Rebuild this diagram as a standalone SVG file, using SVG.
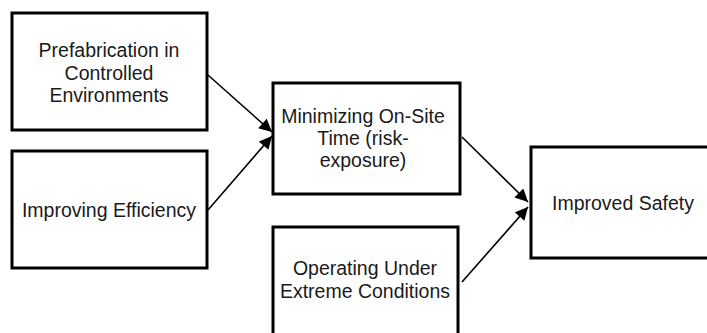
<svg xmlns="http://www.w3.org/2000/svg" width="707" height="333" viewBox="0 0 707 333">
  <style>
    .box { fill: #ffffff; stroke: #000000; stroke-width: 3; }
    .label { font-family: "Liberation Sans", Arial, sans-serif; font-size: 19.5px; fill: #1a1a1a; text-anchor: middle; }
    .edge { stroke: #000000; stroke-width: 1.6; fill: none; marker-end: url(#arrow); }
  </style>
  <defs>
    <marker id="arrow" viewBox="0 0 10 10" refX="10" refY="5" markerWidth="8.5" markerHeight="8" markerUnits="strokeWidth" orient="auto">
      <path d="M0,0 L10,5 L0,10 z" fill="#000000"/>
    </marker>
  </defs>
  <rect width="707" height="333" fill="#ffffff"/>

  <g id="prefabrication">
    <rect class="box" x="12" y="13" width="195" height="117"/>
    <text class="label" x="109" y="57">Prefabrication in</text>
    <text class="label" x="109" y="80">Controlled</text>
    <text class="label" x="109" y="102">Environments</text>
  </g>

  <g id="efficiency">
    <rect class="box" x="12" y="151" width="195" height="117"/>
    <text class="label" x="109" y="217">Improving Efficiency</text>
  </g>

  <g id="minimizing">
    <rect class="box" x="273" y="83" width="187" height="111"/>
    <text class="label" x="363" y="123">Minimizing On-Site</text>
    <text class="label" x="363" y="145">Time (risk-</text>
    <text class="label" x="363" y="167">exposure)</text>
  </g>

  <g id="extreme">
    <rect class="box" x="273" y="227" width="185" height="120"/>
    <text class="label" x="365" y="275">Operating Under</text>
    <text class="label" x="365" y="298">Extreme Conditions</text>
  </g>

  <g id="safety">
    <rect class="box" x="531" y="147" width="190" height="111"/>
    <text class="label" x="623" y="210">Improved Safety</text>
  </g>

  <g id="connectors">
    <line class="edge" x1="208" y1="75" x2="272" y2="132"/>
    <line class="edge" x1="208" y1="210" x2="272" y2="136"/>
    <line class="edge" x1="462" y1="137" x2="528" y2="202"/>
    <line class="edge" x1="462" y1="282" x2="528" y2="207"/>
  </g>
</svg>
